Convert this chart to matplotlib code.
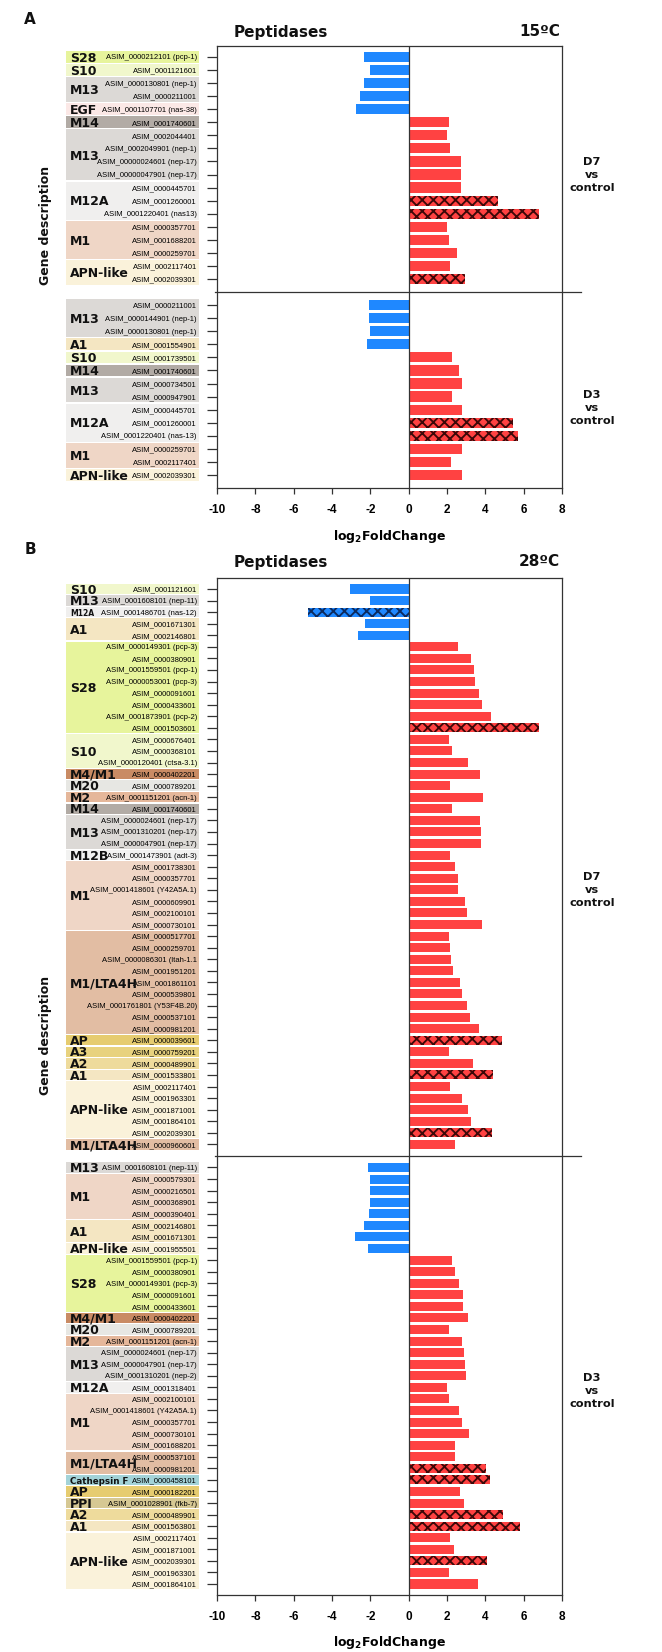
import matplotlib
matplotlib.use("Agg")
import matplotlib.pyplot as plt
import matplotlib.transforms as mtransforms
from matplotlib.patches import Rectangle

# ---------------- data ----------------
# panel A (15ºC), D7 vs control
a7_groups = ["S28", "S10", "M13", "EGF", "M14", "M13", "M12A", "M1", "APN-like"]
a7_counts = [1, 1, 2, 1, 1, 4, 3, 3, 2]
a7_genes = ["ASIM_0000212101 (pcp-1)", "ASIM_0001121601", "ASIM_0000130801 (nep-1)",
            "ASIM_0000211001", "ASIM_0001107701 (nas-38)", "ASIM_0001740601",
            "ASIM_0002044401", "ASIM_0002049901 (nep-1)", "ASIM_00000024601 (nep-17)",
            "ASIM_00000047901 (nep-17)", "ASIM_0000445701", "ASIM_0001260001",
            "ASIM_0001220401 (nas13)", "ASIM_0000357701", "ASIM_0001688201",
            "ASIM_0000259701", "ASIM_0002117401", "ASIM_0002039301"]
a7_fc = [-2.35, -2.03, -2.35, -2.52, -2.75, 2.12, 1.98, 2.15, 2.72, 2.74,
         2.74, 4.65, 6.8, 1.98, 2.12, 2.51, 2.15, 2.93]
a7_dark = [0, 0, 0, 0, 0, 0, 0, 0, 0, 0, 0, 1, 1, 0, 0, 0, 0, 1]

# panel A (15ºC), D3 vs control
a3_groups = ["M13", "A1", "S10", "M14", "M13", "M12A", "M1", "APN-like"]
a3_counts = [3, 1, 1, 1, 2, 3, 2, 1]
a3_genes = ["ASIM_0000211001", "ASIM_0000144901 (nep-1)", "ASIM_0000130801 (nep-1)",
            "ASIM_0001554901", "ASIM_0001739501", "ASIM_0001740601",
            "ASIM_0000734501", "ASIM_0000947901", "ASIM_0000445701",
            "ASIM_0001260001", "ASIM_0001220401 (nas-13)", "ASIM_0000259701",
            "ASIM_0002117401", "ASIM_0002039301"]
a3_fc = [-2.06, -2.07, -2.02, -2.18, 2.24, 2.6, 2.8, 2.27, 2.8, 5.45, 5.7, 2.8, 2.19, 2.8]
a3_dark = [0, 0, 0, 0, 0, 0, 0, 0, 0, 1, 1, 0, 0, 0]

# panel B (28ºC), D7 vs control
b7_groups = ["S10", "M13", "M12A", "A1", "S28", "S10", "M4/M1", "M20", "M2", "M14",
             "M13", "M12B", "M1", "M1/LTA4H", "AP", "A3", "A2", "A1", "APN-like", "M1/LTA4H"]
b7_counts = [1, 1, 1, 2, 8, 3, 1, 1, 1, 1, 3, 1, 6, 9, 1, 1, 1, 1, 5, 1]
b7_genes = ["ASIM_0001121601", "ASIM_0001608101 (nep-11)", "ASIM_0001486701 (nas-12)",
            "ASIM_0001671301", "ASIM_0002146801",
            "ASIM_0000149301 (pcp-3)", "ASIM_0000380901", "ASIM_0001559501 (pcp-1)",
            "ASIM_0000053001 (pcp-3)", "ASIM_0000091601", "ASIM_0000433601",
            "ASIM_0001873901 (pcp-2)", "ASIM_0001503601",
            "ASIM_0000676401", "ASIM_0000368101", "ASIM_0000120401 (ctsa-3.1)",
            "ASIM_0000402201", "ASIM_0000789201", "ASIM_0001151201 (acn-1)", "ASIM_0001740601",
            "ASIM_0000024601 (nep-17)", "ASIM_0001310201 (nep-17)", "ASIM_0000047901 (nep-17)",
            "ASIM_0001473901 (adt-3)",
            "ASIM_0001738301", "ASIM_0000357701", "ASIM_0001418601 (Y42A5A.1)",
            "ASIM_0000609901", "ASIM_0002100101", "ASIM_0000730101",
            "ASIM_0000517701", "ASIM_0000259701", "ASIM_0000086301 (ltah-1.1",
            "ASIM_0001951201", "ASIM_0001861101", "ASIM_0000539801",
            "ASIM_0001761801 (Y53F4B.20)", "ASIM_0000537101", "ASIM_0000981201",
            "ASIM_0000039601", "ASIM_0000759201", "ASIM_0000489901", "ASIM_0001533801",
            "ASIM_0002117401", "ASIM_0001963301", "ASIM_0001871001", "ASIM_0001864101",
            "ASIM_0002039301", "ASIM_0000960601"]
b7_fc = [-3.04, -2.0, -5.27, -2.27, -2.62,
         2.56, 3.27, 3.4, 3.47, 3.69, 3.82, 4.29, 6.8,
         2.13, 2.27, 3.11, 3.71, 2.16, 3.89, 2.24,
         3.73, 3.78, 3.78, 2.16,
         2.44, 2.58, 2.58, 2.93, 3.02, 3.84,
         2.11, 2.16, 2.2, 2.29, 2.69, 2.8, 3.04, 3.18, 3.69,
         4.87, 2.11, 3.38, 4.4,
         2.18, 2.8, 3.07, 3.27, 4.36, 2.4]
b7_dark = [0, 0, 1, 0, 0,
           0, 0, 0, 0, 0, 0, 0, 1,
           0, 0, 0, 0, 0, 0, 0,
           0, 0, 0, 0,
           0, 0, 0, 0, 0, 0,
           0, 0, 0, 0, 0, 0, 0, 0, 0,
           1, 0, 0, 1,
           0, 0, 0, 0, 1, 0]

# panel B (28ºC), D3 vs control
b3_groups = ["M13", "M1", "A1", "APN-like", "S28", "M4/M1", "M20", "M2", "M13", "M12A",
             "M1", "M1/LTA4H", "Cathepsin F", "AP", "PPI", "A2", "A1", "APN-like"]
b3_counts = [1, 4, 2, 1, 5, 1, 1, 1, 3, 1, 5, 2, 1, 1, 1, 1, 1, 5]
b3_genes = ["ASIM_0001608101 (nep-11)",
            "ASIM_0000579301", "ASIM_0000216501", "ASIM_0000368901", "ASIM_0000390401",
            "ASIM_0002146801", "ASIM_0001671301", "ASIM_0001955501",
            "ASIM_0001559501 (pcp-1)", "ASIM_0000380901", "ASIM_0000149301 (pcp-3)",
            "ASIM_0000091601", "ASIM_0000433601",
            "ASIM_0000402201", "ASIM_0000789201", "ASIM_0001151201 (acn-1)",
            "ASIM_0000024601 (nep-17)", "ASIM_0000047901 (nep-17)", "ASIM_0001310201 (nep-2)",
            "ASIM_0001318401",
            "ASIM_0002100101", "ASIM_0001418601 (Y42A5A.1)", "ASIM_0000357701",
            "ASIM_0000730101", "ASIM_0001688201",
            "ASIM_0000537101", "ASIM_0000981201", "ASIM_0000458101", "ASIM_0000182201",
            "ASIM_0001028901 (fkb-7)", "ASIM_0000489901", "ASIM_0001563801",
            "ASIM_0002117401", "ASIM_0001871001", "ASIM_0002039301", "ASIM_0001963301",
            "ASIM_0001864101"]
b3_fc = [-2.11, -2.04, -2.0, -2.04, -2.07, -2.33, -2.82, -2.11,
         2.24, 2.44, 2.64, 2.82, 2.82,
         3.09, 2.09, 2.8,
         2.87, 2.93, 3.0, 2.0,
         2.13, 2.6, 2.8, 3.13, 2.4,
         2.4, 4.02, 4.22, 2.67, 2.87, 4.93, 5.8,
         2.18, 2.36, 4.09, 2.09, 3.62]
b3_dark = [0, 0, 0, 0, 0, 0, 0, 0,
           0, 0, 0, 0, 0,
           0, 0, 0,
           0, 0, 0, 0,
           0, 0, 0, 0, 0,
           0, 1, 1, 0, 0, 1, 1,
           0, 0, 1, 0, 0]

xticks = list(range(-10, 9, 2))

# ---------------- style ----------------
group_colors = {
    "S28": "#e7f49c", "S10": "#f1f7cc", "M13": "#dcd9d6", "EGF": "#fbe8e6",
    "M14": "#b2aba5", "M12A": "#f0efee", "M12B": "#f2f2f1", "M1": "#efd6c6",
    "M1/LTA4H": "#e2bda3", "APN-like": "#faf2da", "A1": "#f4e6c2", "A2": "#eedb9c",
    "A3": "#e8d27e", "AP": "#e6cc70", "M4/M1": "#c98b64", "M20": "#e7e7e3",
    "M2": "#e5b79a", "Cathepsin F": "#a3d3d8", "PPI": "#d6c893",
}
BLUE, RED = "#1f88ff", "#ff4242"
DARK_BLUE, DARK_RED = "#0b2a5e", "#3d0808"
W, H = 662, 1652
GENE_FONT = ["Liberation Sans", "DejaVu Sans"]
BOLD_FONT = ["DejaVu Sans"]

plt.rcParams["hatch.linewidth"] = 1.35
plt.rcParams["axes.linewidth"] = 0.9
plt.rcParams["axes.edgecolor"] = "#333333"

fig = plt.figure(figsize=(W / 100, H / 100), dpi=100)


def fx(px):
    return px / W


def fy(py):
    return 1 - py / H


def draw_panel(ax, sections, small_labels, ylim, labelpad):
    rows, genes, fcs, dark = [], [], [], []
    blocks = []
    start = 0
    for k, (groups, counts, g, fc, dk) in enumerate(sections):
        rows += list(range(start, start + len(g)))
        genes += g
        fcs += fc
        dark += dk
        pos = start
        for j, (name, n) in enumerate(zip(groups, counts)):
            blocks.append((k, j, name, pos, n))
            pos += n
        start += len(g) + 1
    sep = len(sections[0][2])

    plain = [i for i in range(len(rows)) if not dark[i]]
    hatched = [i for i in range(len(rows)) if dark[i]]
    ax.barh([rows[i] for i in plain], [fcs[i] for i in plain], height=0.78,
            color=[BLUE if fcs[i] < 0 else RED for i in plain], edgecolor="none", zorder=2)
    for i in hatched:
        ax.barh(rows[i], fcs[i], height=0.78, color=BLUE if fcs[i] < 0 else RED,
                edgecolor=DARK_BLUE if fcs[i] < 0 else DARK_RED, linewidth=0,
                hatch="xxx", zorder=2)

    ax.axvline(0, color="#333333", lw=0.9, zorder=3)
    ax.set_xlim(-10, 8)
    ax.set_ylim(*ylim)
    ax.set_xticks(xticks)
    ax.set_xticklabels([str(t) for t in xticks], family=["Liberation Sans", "DejaVu Sans"],
                       fontweight="bold", fontsize=8.5)
    ax.set_yticks(rows)
    ax.set_yticklabels(genes, family=GENE_FONT, fontsize=5.5, color="#000000")
    ax.tick_params(axis="y", length=7, width=0.9, pad=7.5, color="#333333")
    ax.tick_params(axis="x", length=4.5, width=0.9, pad=7, color="#333333")

    trans = mtransforms.blended_transform_factory(ax.transAxes, ax.transData)
    ax.plot([-0.006, 1.055], [sep, sep], transform=trans, color="#333333", lw=0.9,
            clip_on=False, zorder=3)

    x0 = (66 - 217) / 345
    w = (199 - 66) / 345
    for k, j, name, pos, n in blocks:
        ax.add_patch(Rectangle((x0, pos - 0.5 + 0.05), w, n - 0.1, transform=trans,
                               facecolor=group_colors[name], edgecolor="none",
                               clip_on=False, zorder=0.5))
        size = small_labels.get((k, j), 9)
        ax.text(x0 + 0.012, pos + (n - 1) / 2 + 0.1, name, transform=trans,
                ha="left", va="center", fontsize=size, fontweight="bold",
                family=BOLD_FONT, color="#111111", zorder=3)

    ax.set_xlabel("log$_\\mathbf{2}$FoldChange", fontweight="bold", fontsize=9,
                  family=BOLD_FONT, labelpad=labelpad)


# panel A
axA = fig.add_axes([fx(217), fy(488), fx(345), (488 - 46) / H])
draw_panel(axA, [(a7_groups, a7_counts, a7_genes, a7_fc, a7_dark),
                 (a3_groups, a3_counts, a3_genes, a3_fc, a3_dark)],
           {}, (33.0, -0.84), 9)

# panel B
axB = fig.add_axes([fx(217), fy(1595), fx(345), (1595 - 578) / H])
draw_panel(axB, [(b7_groups, b7_counts, b7_genes, b7_fc, b7_dark),
                 (b3_groups, b3_counts, b3_genes, b3_fc, b3_dark)],
           {(0, 2): 5.5, (1, 12): 6.3}, (86.95, -0.95), 8)

txt = dict(fontweight="bold", family=BOLD_FONT, color="#111111")
fig.text(fx(30), fy(20), "A", fontsize=11, ha="center", va="center", **txt)
fig.text(fx(30), fy(549), "B", fontsize=11, ha="center", va="center", **txt)
for ytop, temp in ((32, "15ºC"), (562, "28ºC")):
    fig.text(fx(281), fy(ytop), "Peptidases", fontsize=11, ha="center", va="center", **txt)
    fig.text(fx(560), fy(ytop), temp, fontsize=11, ha="right", va="center", **txt)
for yc, lab in ((175, "D7"), (408, "D3"), (890, "D7"), (1391, "D3")):
    fig.text(fx(592), fy(yc), lab + "\nvs\ncontrol", fontsize=8.2, ha="center",
             va="center", linespacing=1.35, **txt)
for yc in (225, 1035):
    fig.text(fx(46), fy(yc), "Gene description", fontsize=9, rotation=90,
             ha="center", va="center", **txt)

fig.savefig("out.png", dpi=100)
